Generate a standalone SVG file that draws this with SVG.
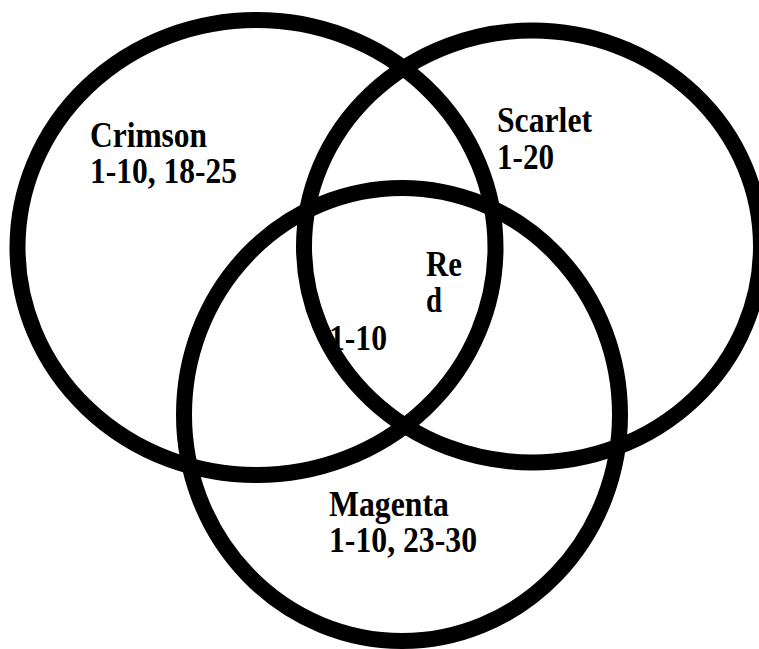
<svg xmlns="http://www.w3.org/2000/svg" width="759" height="649" viewBox="0 0 759 649">
<style>
.ring{fill:none;stroke:#000;stroke-width:16}
.lbl{font-family:"Liberation Serif","Times New Roman",serif;font-weight:bold;font-size:35px;fill:#000}
</style>
<rect width="759" height="649" fill="#fff"/>
<g id="red">
<text class="lbl" x="426" y="276" textLength="36" lengthAdjust="spacingAndGlyphs">Re</text>
<text class="lbl" x="426" y="312" textLength="16" lengthAdjust="spacingAndGlyphs">d</text>
<text class="lbl" x="329" y="350" textLength="58" lengthAdjust="spacingAndGlyphs">1-10</text>
</g>
<g id="crimson">
<ellipse class="ring" cx="256.5" cy="247.5" rx="239" ry="227.5"/>
<text class="lbl" x="90" y="147" textLength="117" lengthAdjust="spacingAndGlyphs">Crimson</text>
<text class="lbl" x="90" y="183" textLength="147" lengthAdjust="spacingAndGlyphs">1-10, 18-25</text>
</g>
<g id="scarlet">
<ellipse class="ring" cx="532.5" cy="246.5" rx="228.5" ry="216"/>
<text class="lbl" x="497" y="132" textLength="95" lengthAdjust="spacingAndGlyphs">Scarlet</text>
<text class="lbl" x="497" y="169" textLength="57" lengthAdjust="spacingAndGlyphs">1-20</text>
</g>
<g id="magenta">
<ellipse class="ring" cx="402" cy="414.5" rx="218" ry="226.5"/>
<text class="lbl" x="329" y="516" textLength="120" lengthAdjust="spacingAndGlyphs">Magenta</text>
<text class="lbl" x="329" y="552" textLength="148" lengthAdjust="spacingAndGlyphs">1-10, 23-30</text>
</g>
<g id="connectors"/>
</svg>
